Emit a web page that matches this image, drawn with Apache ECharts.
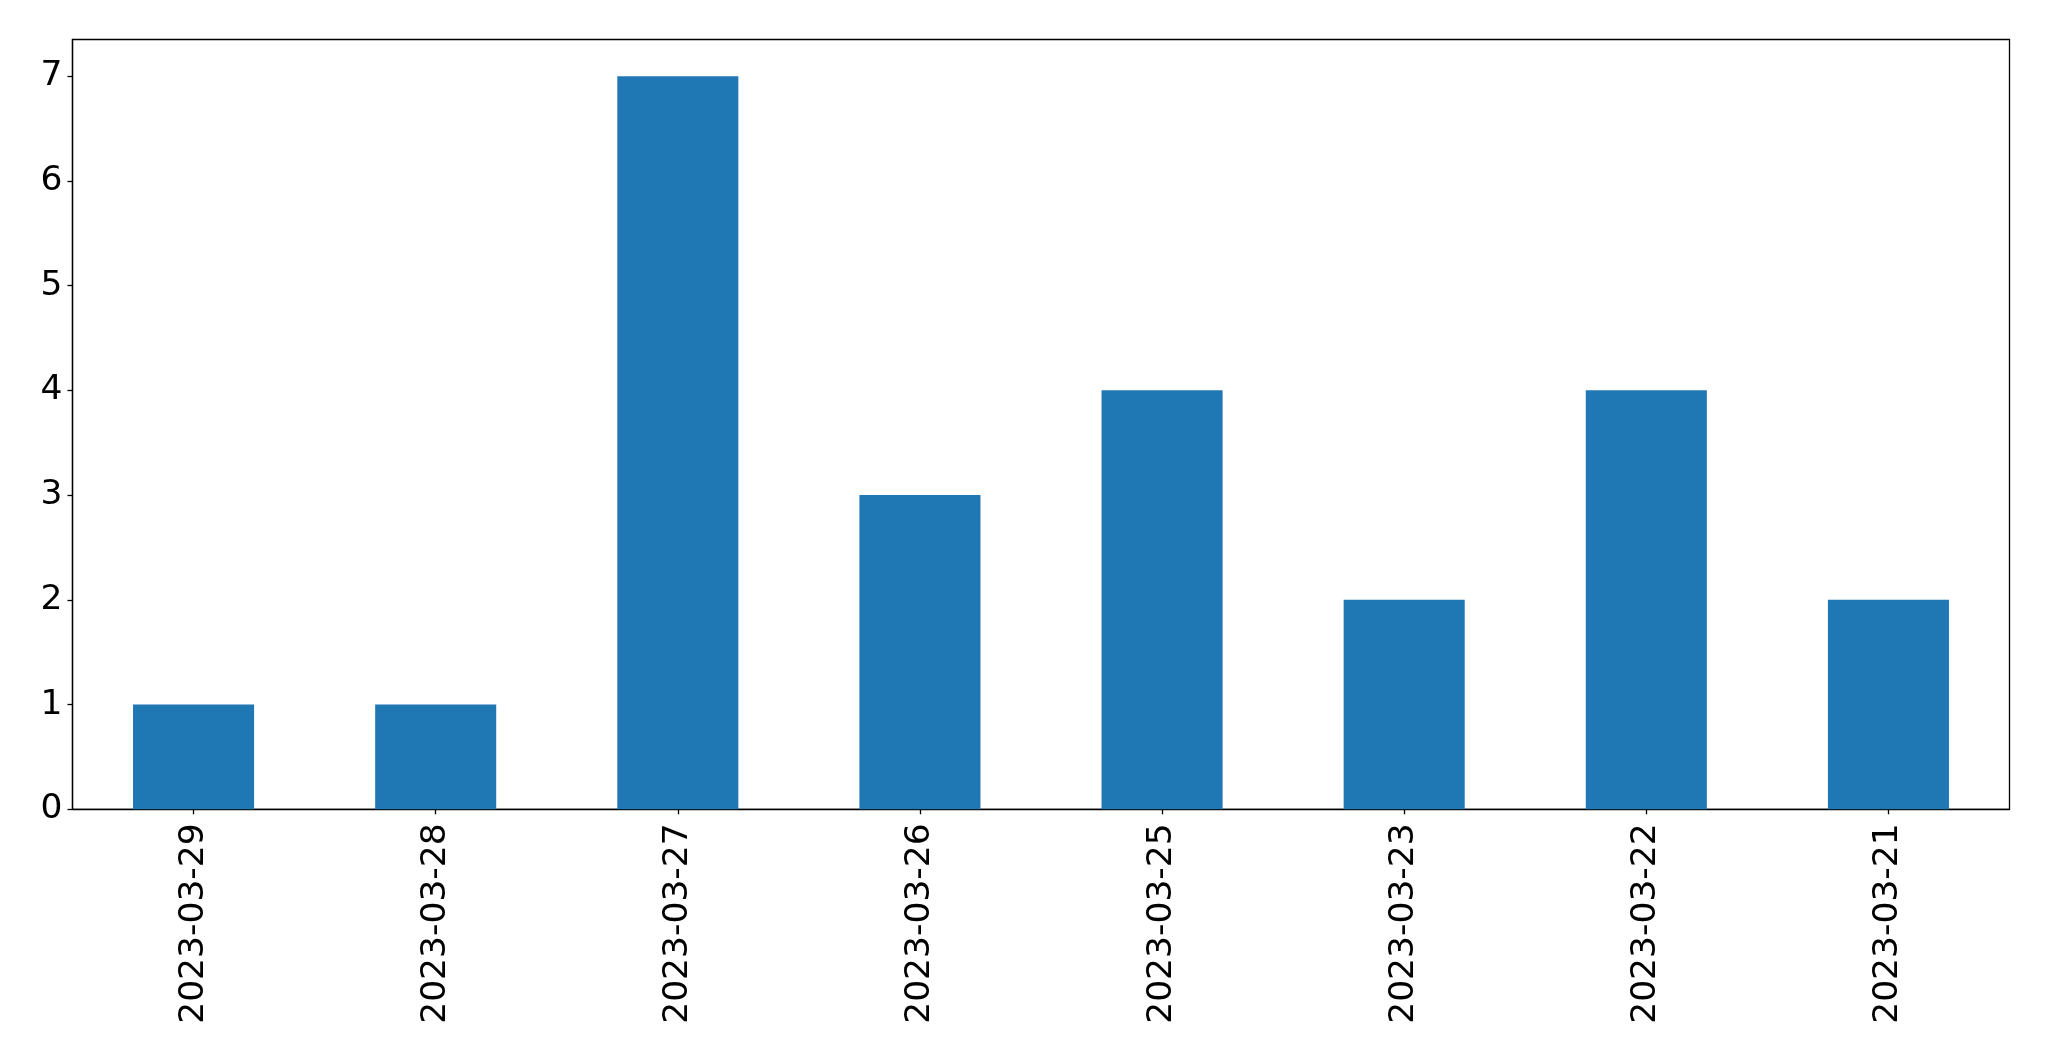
<!DOCTYPE html>
<html>
<head>
<meta charset="utf-8">
<script src="https://cdn.jsdelivr.net/npm/echarts@6/dist/echarts.min.js"></script>
<style>
html,body{margin:0;padding:0;background:#fff;}
#chart{width:2049px;height:1061px;}
</style>
</head>
<body>
<div id="chart"></div>
<script>
const categories = ['2023-03-29','2023-03-28','2023-03-27','2023-03-26','2023-03-25','2023-03-23','2023-03-22','2023-03-21'];
const counts = [1, 1, 7, 3, 4, 2, 4, 2];
const yTicks = [0, 1, 2, 3, 4, 5, 6, 7];

const chart = echarts.init(document.getElementById('chart'), null, {renderer: 'canvas'});
const font = 'DejaVu Sans';
chart.setOption({
  animation: false,
  backgroundColor: '#fff',
  textStyle: {fontFamily: font},
  grid: {
    left: 72.5, right: 39.5, top: 39.5, bottom: 251.7,
    show: true, borderColor: '#000', borderWidth: 1.3, backgroundColor: 'transparent'
  },
  xAxis: {
    type: 'category',
    data: categories,
    boundaryGap: true,
    axisLine: {show: true, lineStyle: {color: '#000', width: 1.3}},
    axisTick: {show: true, alignWithLabel: true, length: 5, lineStyle: {color: '#000', width: 1.3}},
    axisLabel: {rotate: 90, fontSize: 34.5, color: '#000', fontFamily: font, margin: 14, interval: 0},
    splitLine: {show: false}
  },
  yAxis: {
    type: 'value',
    min: 0, max: 7.35,
    axisLine: {show: true, lineStyle: {color: '#000', width: 1.3}},
    axisTick: {show: true, length: 5, lineStyle: {color: '#000', width: 1.3}, customValues: yTicks},
    axisLabel: {fontSize: 34.5, color: '#000', fontFamily: font, margin: 10, customValues: yTicks},
    splitLine: {show: false}
  },
  series: [{
    type: 'bar',
    data: counts,
    barWidth: '50%',
    itemStyle: {color: '#1f77b4'}
  }]
});
</script>
</body>
</html>
